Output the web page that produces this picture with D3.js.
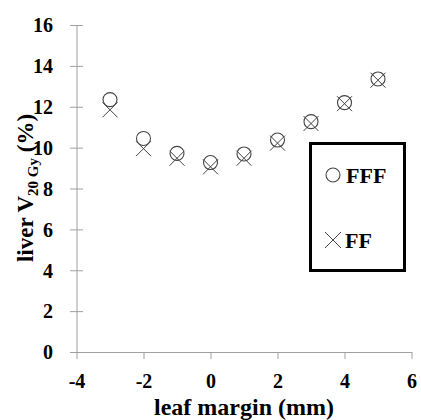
<!DOCTYPE html>
<html>
<head>
<meta charset="utf-8">
<script src="https://cdn.jsdelivr.net/npm/d3@7"></script>
<style>
  body { margin: 0; background: #fff; }
  svg text { font-family: "Liberation Serif", "Times New Roman", serif; font-weight: bold; }
</style>
</head>
<body>
<svg width="421" height="420"></svg>
<script>
var margins = [-3, -2, -1, 0, 1, 2, 3, 4, 5];
var fff = [12.35, 10.45, 9.72, 9.27, 9.69, 10.37, 11.27, 12.2, 13.36];
var ff = [11.85, 9.95, 9.48, 9.06, 9.48, 10.22, 11.18, 12.15, 13.3];
var xTicks = [-4, -2, 0, 2, 4, 6];
var yTicks = [0, 2, 4, 6, 8, 10, 12, 14, 16];

var svg = d3.select("svg");
var x = d3.scaleLinear().domain([-4, 6]).range([76.5, 411.5]);
var y = d3.scaleLinear().domain([0, 16]).range([352, 25]);
var axisCol = "#a0a0a0", markCol = "#444";
var fmt = function(d){ return String(d); };

// y axis
var yAxis = svg.append("g").attr("transform", "translate(" + x(-4) + ",0)")
    .call(d3.axisLeft(y).tickValues(yTicks).tickFormat(fmt).tickSizeInner(6.5).tickSizeOuter(0).tickPadding(17));
yAxis.selectAll(".tick line").attr("x2", 6.5).attr("x1", -6.5);
// x axis
var xAxis = svg.append("g").attr("transform", "translate(0," + y(0) + ")")
    .call(d3.axisBottom(x).tickValues(xTicks).tickFormat(fmt).tickSizeInner(7).tickSizeOuter(0).tickPadding(15));
[yAxis, xAxis].forEach(function(a){
    a.attr("font-family", null).attr("font-size", null);
    a.select(".domain").attr("stroke", axisCol);
    a.selectAll(".tick line").attr("stroke", axisCol);
    a.selectAll(".tick text").attr("fill", "#000")
        .style("font-family", "'Liberation Serif', 'Times New Roman', serif")
        .style("font-weight", "bold").style("font-size", "20px");
});
yAxis.selectAll(".tick text").attr("dy", "0.34em");
xAxis.selectAll(".tick text").attr("dy", "0.7em");

// crosses (FF)
var cs = 7.5;
svg.append("g").selectAll("path").data(ff).enter().append("path")
    .attr("d", function(d, i){
        var cx = x(margins[i]), cy = y(d);
        return "M" + (cx - cs) + "," + (cy - cs) + "L" + (cx + cs) + "," + (cy + cs) +
               "M" + (cx - cs) + "," + (cy + cs) + "L" + (cx + cs) + "," + (cy - cs);
    })
    .attr("stroke", markCol).attr("stroke-width", 1).attr("fill", "none");
// circles (FFF)
svg.append("g").selectAll("circle").data(fff).enter().append("circle")
    .attr("cx", function(d, i){ return x(margins[i]); })
    .attr("cy", function(d){ return y(d); })
    .attr("r", 7)
    .attr("stroke", markCol).attr("stroke-width", 1.1).attr("fill", "none");

// legend
var lg = svg.append("g");
lg.append("rect").attr("x", 310.5).attr("y", 143.5).attr("width", 94).attr("height", 127)
    .attr("fill", "#fff").attr("stroke", "#000").attr("stroke-width", 3);
lg.append("circle").attr("cx", 333).attr("cy", 175).attr("r", 7)
    .attr("stroke", markCol).attr("stroke-width", 1.1).attr("fill", "none");
lg.append("text").attr("x", 346).attr("y", 183).style("font-size", "22px").text("FFF");
lg.append("path").attr("d", "M325,232L341,248M325,248L341,232")
    .attr("stroke", markCol).attr("stroke-width", 1).attr("fill", "none");
lg.append("text").attr("x", 345).attr("y", 248).style("font-size", "22px").text("FF");

// axis titles
svg.append("text").attr("x", x(1)).attr("y", 415).attr("text-anchor", "middle")
    .style("font-size", "24px").text("leaf margin (mm)");
var yt = svg.append("text").attr("transform", "translate(33,188) rotate(-90)")
    .attr("text-anchor", "middle").style("font-size", "23px");
yt.append("tspan").text("liver V");
yt.append("tspan").attr("dy", 5).style("font-size", "15px").text("20 Gy");
yt.append("tspan").attr("dy", -5).text(" (%)");
</script>
</body>
</html>
